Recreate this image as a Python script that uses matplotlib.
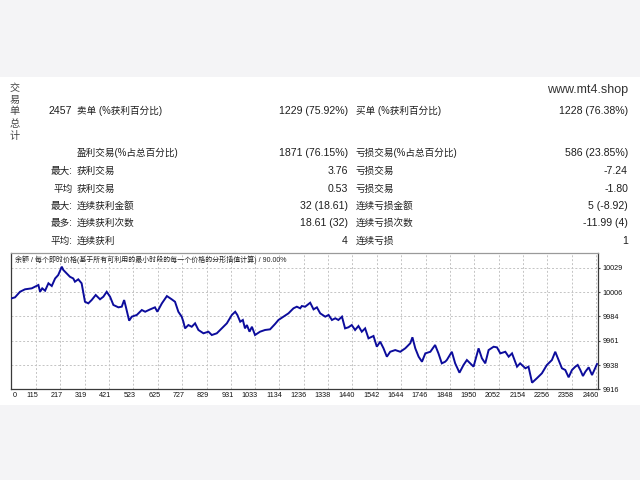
import matplotlib
matplotlib.use("Agg")
import matplotlib.pyplot as plt
from matplotlib.patches import Rectangle
from matplotlib.transforms import ScaledTranslation

plt.rcParams['font.family'] = ['Liberation Sans', 'Noto Sans CJK SC', 'DejaVu Sans']

# ---------------- data ----------------
total_trades = "2457"
side_labels = ["交", "易", "单", "总", "计"]
row_prefix = ["", "", "最大:", "平均", "最大:", "最多:", "平均:"]
left_labels = ["卖单 (%获利百分比)", "盈利交易(%占总百分比)", "获利交易", "获利交易",
               "连续获利金额", "连续获利次数", "连续获利"]
left_values = ["1229 (75.92%)", "1871 (76.15%)", "3.76", "0.53",
               "32 (18.61)", "18.61 (32)", "4"]
right_labels = ["买单 (%获利百分比)", "亏损交易(%占总百分比)", "亏损交易", "亏损交易",
                "连续亏损金额", "连续亏损次数", "连续亏损"]
right_values = ["1228 (76.38%)", "586 (23.85%)", "-7.24", "-1.80",
                "5 (-8.92)", "-11.99 (4)", "1"]
site = "www.mt4.shop"
chart_title = "余额 / 每个即时价格(基于所有可利用的最小时段的每一个价格的分形插值计算) / 90.00%"

trades = [13, 27, 48, 69, 97, 111, 125, 132, 141, 153, 167, 181, 195, 208, 223, 229, 243, 257, 271, 278,
          292, 306, 320, 334, 348, 365, 383, 397, 411, 425, 439, 460, 474, 484, 491, 505, 516, 537, 558, 572,
          593, 613,
          623, 642, 663, 683, 697, 711, 725, 732, 739, 753, 767, 781, 795, 816, 837, 851, 872, 893, 914, 935,
          949, 958, 970, 981, 990, 998, 1009, 1019, 1032, 1053, 1074, 1095, 1116, 1130, 1151, 1172, 1193,
          1207, 1221,
          1228, 1242, 1263, 1277, 1291, 1305, 1326, 1340, 1354, 1368, 1381, 1396, 1409, 1423, 1437, 1451,
          1465, 1479, 1493, 1507, 1528, 1542, 1556, 1570, 1584, 1598, 1619, 1640, 1661, 1682, 1691, 1703,
          1717, 1731, 1745, 1766, 1786, 1800, 1814, 1828,
          1835, 1856, 1870, 1888, 1905, 1919, 1933, 1947, 1968, 1982, 1996, 2010, 2031, 2045, 2059, 2080,
          2094, 2108, 2129, 2142, 2164, 2177, 2192, 2212, 2233, 2254, 2275, 2289, 2303, 2317, 2331, 2345,
          2359, 2373, 2383, 2394, 2405, 2415, 2429, 2443, 2464]
balance = [10000.5, 10001.4, 10006.6, 10008.9, 10009.8, 10011.3, 10012.9, 10006.6, 10009.8, 10007.6,
           10014.5, 10012.0, 10019.0, 10022.2, 10030.0, 10027.0, 10023.8, 10020.6, 10019.0, 10016.0,
           10018.2, 10014.5, 9997.3, 9995.8, 9998.9, 10003.6, 9999.6, 10002.0, 10006.6, 10002.0,
           9994.3, 9992.1, 9992.7, 9998.9, 9992.7, 9979.7, 9983.4, 9985.0, 9989.6, 9988.0,
           9990.2, 9992.1,
           9988.0, 9995.8, 10002.6, 9999.6, 9997.3, 9988.0, 9983.4, 9978.7, 9972.5, 9975.6,
           9974.0, 9977.2, 9971.0, 9967.9, 9969.4, 9966.3, 9967.9, 9972.5, 9977.2, 9985.0,
           9988.0, 9985.0, 9978.7, 9980.3, 9972.5, 9975.6, 9969.4, 9974.0, 9966.3, 9969.4,
           9971.0, 9971.6, 9976.6, 9980.3, 9983.4, 9986.5, 9991.2, 9992.7, 9991.2,
           9993.3, 9992.7, 9996.4, 9990.2, 9992.1, 9986.5, 9983.4, 9985.0, 9980.3, 9981.9,
           9980.3, 9983.4, 9972.5, 9973.5, 9975.6, 9971.0, 9974.7, 9969.4, 9972.5, 9963.2,
           9965.4, 9955.4, 9960.1, 9953.9, 9946.1, 9950.7, 9952.3, 9950.7, 9953.9, 9958.6,
           9964.2, 9953.9, 9946.1, 9941.4, 9949.2, 9950.7, 9957.0, 9949.2, 9939.9, 9941.4,
           9943.0, 9950.7, 9939.9, 9931.2, 9938.4, 9943.0, 9939.9, 9936.8, 9953.9, 9944.6,
           9939.9, 9952.3, 9955.4, 9954.8, 9949.2, 9950.7, 9946.1, 9949.2, 9936.8, 9939.9,
           9935.3, 9936.8, 9921.9, 9926.0, 9930.6, 9938.4, 9943.0, 9950.7, 9943.0, 9935.3,
           9933.7, 9926.9, 9933.7, 9936.8, 9938.4, 9933.7, 9928.1, 9932.1, 9936.2, 9929.0,
           9939.3]

x_tick_values = [23, 115, 217, 319, 421, 523, 625, 727, 829, 931, 1033, 1134, 1236, 1338, 1440,
                 1542, 1644, 1746, 1848, 1950, 2052, 2154, 2256, 2358, 2460]
x_tick_labels = ["0", "115", "217", "319", "421", "523", "625", "727", "829", "931", "1033", "1134",
                 "1236", "1338", "1440", "1542", "1644", "1746", "1848", "1950", "2052", "2154",
                 "2256", "2358", "2460"]
y_tick_values = [9916, 9938, 9961, 9984, 10006, 10029]
y_tick_labels = ["9916", "9938", "9961", "9984", "10006", "10029"]

# ---------------- figure ----------------
W, H = 640, 480
fig = plt.figure(figsize=(6.4, 4.8), dpi=100)
fig.patch.set_facecolor('#f4f4f6')


def fx(x):
    return x / W


def fy(y):
    return 1 - y / H


# white report band
fig.patches.append(Rectangle((0, fy(405)), 1, fy(77) - fy(405), transform=fig.transFigure,
                             facecolor='white', edgecolor='none', zorder=-10))

txt = '#1e1e1e'
# vertical side label
side_y = [88.5, 99.5, 111, 124, 136]
for ch, yy in zip(side_labels, side_y):
    fig.text(fx(15), fy(yy), ch, fontsize=7.3, color='#444444', ha='center', va='center')

fig.text(fx(628), fy(90), site, fontsize=9, color='#333333', ha='right', va='center')
fig.text(fx(72), fy(111), total_trades, fontsize=7.6, color=txt, ha='right', va='center')

row_y = [111, 153, 171, 188.5, 206, 223.3, 240.7]
for yy, pre, ll, lv, rl, rv in zip(row_y, row_prefix, left_labels, left_values, right_labels, right_values):
    if pre:
        fig.text(fx(72.7), fy(yy), pre, fontsize=6.9, color=txt, ha='right', va='center')
    fig.text(fx(77), fy(yy), ll, fontsize=6.9, color=txt, ha='left', va='center')
    fig.text(fx(348), fy(yy), lv, fontsize=7.6, color=txt, ha='right', va='center')
    fig.text(fx(356), fy(yy), rl, fontsize=6.9, color=txt, ha='left', va='center')
    fig.text(fx(628), fy(yy), rv, fontsize=7.6, color=txt, ha='right', va='center')

# ---------------- chart ----------------
ax_l, ax_r, ax_t, ax_b = 11, 598, 252.5, 389
ax = fig.add_axes([fx(ax_l), fy(ax_b), (ax_r - ax_l) / W, (ax_b - ax_t) / H])
ax.set_zorder(2)
ax.set_facecolor('white')
ax.plot(trades, balance, color='#0c0c9c', linewidth=1.4, solid_joinstyle='miter', zorder=3)
ax.set_xlim(10.3, 2468)
ax.set_ylim(9916, 10043.2)

ax.set_xticks(x_tick_values)
ax.set_xticklabels(x_tick_labels)
ax.set_yticks(y_tick_values)
ax.set_yticklabels(y_tick_labels)
ax.yaxis.tick_right()
ax.tick_params(axis='x', length=0, pad=2.3, labelsize=5.2, labelcolor='#111111')
ax.tick_params(axis='y', length=1.5, pad=1.6, labelsize=5.2, labelcolor='#111111', color='#444444')
offset = ScaledTranslation(2.5 / 100, 0, fig.dpi_scale_trans)
for lab in ax.get_xticklabels():
    lab.set_ha('right')
    lab.set_transform(lab.get_transform() + offset)

ax.grid(True, color='#c4c4c4', linestyle=(0, (2, 2)), linewidth=0.7)
ax.get_xgridlines()[0].set_visible(False)
for side, sp in ax.spines.items():
    sp.set_linewidth(0.9)
    sp.set_color('#3a3a3a')
ax.spines['top'].set_color('#9a9a9a')

ax.text(4 / (ax_r - ax_l), 1 - 7 / (ax_b - ax_t), chart_title, transform=ax.transAxes,
        fontsize=5.0, color='#222222', ha='left', va='center', zorder=5)

fig.savefig('out.png', dpi=100, facecolor=fig.get_facecolor())
